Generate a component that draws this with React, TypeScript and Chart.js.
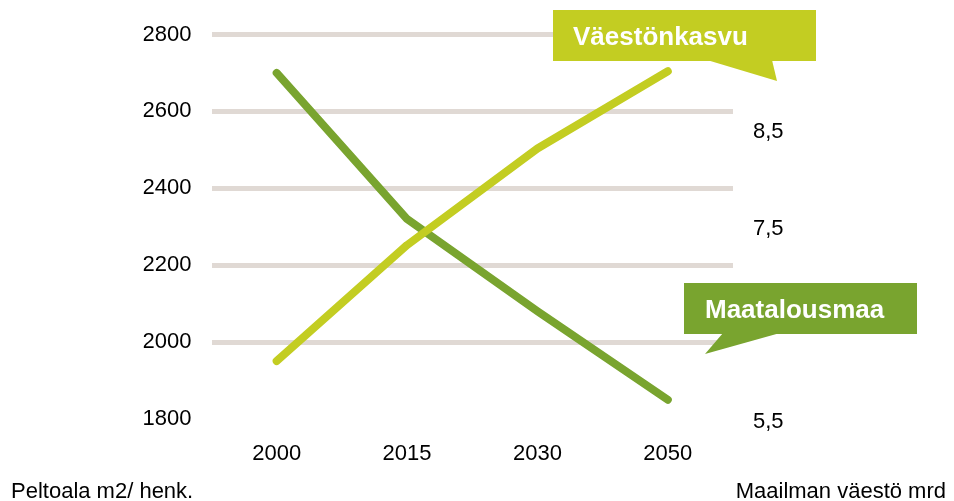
import React, { useEffect, useRef } from "react";
import { Chart, registerables } from "chart.js";

Chart.register(...registerables);

// ---- data ----
const years = ["2000", "2015", "2030", "2050"];
const populationBn = [6.13, 7.33, 8.33, 9.13]; // Väestönkasvu (right axis)
const farmlandM2 = [2700, 2320, 2080, 1850]; // Maatalousmaa (left axis)
const leftTicks = [1800, 2000, 2200, 2400, 2600, 2800];
const rightTicks = [5.5, 6.5, 7.5, 8.5, 9.5];
const seriesNames = ["Väestönkasvu", "Maatalousmaa"];
const axisTitles = ["Peltoala m2/ henk.", "Maailman väestö mrd"];

const LIGHT = "#c3cd22";
const DARK = "#79a42f";
const GRID = "#e0d9d4";
const FONT = '"Liberation Sans", Arial, sans-serif';

const overlayPlugin = {
  id: "overlay",
  afterDraw(chart: any) {
    const ctx = chart.ctx as CanvasRenderingContext2D;
    ctx.save();
    // bottom axis titles
    ctx.fillStyle = "#000";
    ctx.font = `22px ${FONT}`;
    ctx.textBaseline = "alphabetic";
    ctx.textAlign = "left";
    ctx.fillText(axisTitles[0], 11, 498);
    ctx.textAlign = "right";
    ctx.fillText(axisTitles[1], 946, 498);

    // callout: Väestönkasvu
    ctx.fillStyle = LIGHT;
    ctx.fillRect(553, 10, 263, 51);
    ctx.beginPath();
    ctx.moveTo(707, 60);
    ctx.lineTo(772, 60);
    ctx.lineTo(777, 81);
    ctx.closePath();
    ctx.fill();

    // callout: Maatalousmaa
    ctx.fillStyle = DARK;
    ctx.fillRect(684, 283, 233, 51);
    ctx.beginPath();
    ctx.moveTo(723, 333);
    ctx.lineTo(780, 333);
    ctx.lineTo(705, 354);
    ctx.closePath();
    ctx.fill();

    ctx.fillStyle = "#fff";
    ctx.font = `bold 26px ${FONT}`;
    ctx.textAlign = "left";
    ctx.textBaseline = "alphabetic";
    ctx.fillText(seriesNames[0], 573, 45);
    ctx.fillText(seriesNames[1], 705, 318);
    ctx.restore();
  },
};

export default function App() {
  const ref = useRef<HTMLCanvasElement>(null);

  useEffect(() => {
    if (!ref.current) return;
    const chart = new Chart(ref.current, {
      type: "line",
      data: {
        labels: years,
        datasets: [
          {
            label: seriesNames[0],
            data: populationBn,
            yAxisID: "y1",
            borderColor: LIGHT,
            backgroundColor: LIGHT,
            borderWidth: 8,
            borderCapStyle: "round",
            borderJoinStyle: "round",
            pointRadius: 0,
            tension: 0,
          },
          {
            label: seriesNames[1],
            data: farmlandM2,
            yAxisID: "y",
            borderColor: DARK,
            backgroundColor: DARK,
            borderWidth: 8,
            borderCapStyle: "round",
            borderJoinStyle: "round",
            pointRadius: 0,
            tension: 0,
          },
        ],
      },
      plugins: [overlayPlugin],
      options: {
        animation: false,
        responsive: false,
        devicePixelRatio: 1,
        layout: { padding: { left: 143.5, right: 161, top: 34.5, bottom: 22 } },
        plugins: {
          legend: { display: false },
          tooltip: { enabled: false },
          title: { display: false },
        },
        scales: {
          x: {
            offset: true,
            grid: { display: false, drawTicks: false },
            border: { display: false },
            ticks: {
              padding: 22,
              color: "#000",
              font: { family: FONT, size: 22 },
              maxRotation: 0,
            },
            afterFit(scale: any) {
              scale.height = 60;
            },
          },
          y: {
            position: "left",
            min: 1800,
            max: 2800,
            afterBuildTicks(scale: any) {
              scale.ticks = leftTicks.map((v) => ({ value: v }));
            },
            grid: {
              drawTicks: false,
              lineWidth: 5,
              color: (c: any) =>
                c.tick && c.tick.value === leftTicks[0] ? "rgba(0,0,0,0)" : GRID,
            },
            border: { display: false },
            ticks: {
              padding: 20,
              color: "#000",
              font: { family: FONT, size: 22 },
              callback: (v: any) => String(v),
            },
            afterFit(scale: any) {
              scale.width = 68;
            },
          },
          y1: {
            position: "right",
            min: 5.53,
            max: 9.51,
            afterBuildTicks(scale: any) {
              scale.ticks = rightTicks.map((v) => ({ value: v }));
            },
            grid: { display: false, drawTicks: false },
            border: { display: false },
            ticks: {
              padding: 20,
              color: "#000",
              font: { family: FONT, size: 22 },
              callback: (v: any) => Number(v).toFixed(1).replace(".", ","),
            },
            afterFit(scale: any) {
              scale.width = 60;
            },
          },
        },
      },
    });
    return () => chart.destroy();
  }, []);

  return (
    <div
      style={{
        position: "absolute",
        left: 0,
        top: 0,
        width: 954,
        height: 501,
        background: "#fff",
      }}
    >
      <canvas ref={ref} width={954} height={501} style={{ display: "block" }} />
    </div>
  );
}
